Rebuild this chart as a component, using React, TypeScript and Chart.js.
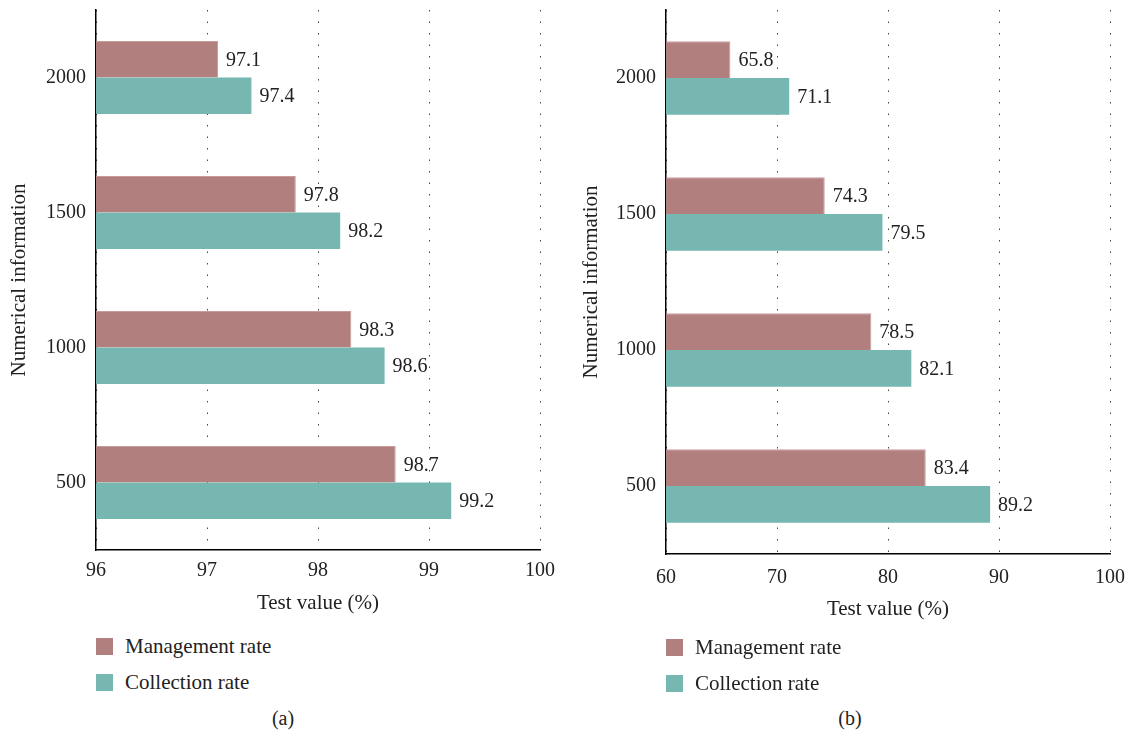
import React, { useEffect, useRef } from 'react';
import { Chart, registerables } from 'chart.js';

Chart.register(...registerables);

// ---- data ----
const categories = ['2000', '1500', '1000', '500'];
const seriesNames = ['Management rate', 'Collection rate'];
const managementA = [97.1, 97.8, 98.3, 98.7];
const collectionA = [97.4, 98.2, 98.6, 99.2];
const managementB = [65.8, 74.3, 78.5, 83.4];
const collectionB = [71.1, 79.5, 82.1, 89.2];
const axisA = { min: 96, max: 100, step: 1 };
const axisB = { min: 60, max: 100, step: 10 };
const xTitle = 'Test value (%)';
const yTitle = 'Numerical information';

const MGMT = '#b07f7e';
const COLL = '#76b7b2';
const FONT = '"Liberation Serif", "Times New Roman", serif';
const TEXT = '#222';
const FS = 20;
const FT = 21;

const valueLabels = {
  id: 'valueLabels',
  afterDatasetsDraw(chart: any) {
    const ctx = chart.ctx;
    ctx.save();
    ctx.font = `${FS}px ${FONT}`;
    ctx.fillStyle = TEXT;
    ctx.textBaseline = 'middle';
    ctx.textAlign = 'left';
    chart.data.datasets.forEach((ds: any, di: number) => {
      const meta = chart.getDatasetMeta(di);
      meta.data.forEach((bar: any, i: number) => {
        ctx.fillText(String(ds.data[i]), bar.x + 8, bar.y + 1);
      });
    });
    ctx.restore();
  },
};

type PanelProps = {
  left: number;
  width: number;
  mgmt: number[];
  coll: number[];
  axis: { min: number; max: number; step: number };
  plotLeft: number;
  plotRight: number;
  plotBottom: number;
  yTitlePad: number;
  xTickPad: number;
  xTitlePad: number;
  legendY: number[];
  caption: string;
};

function Panel(p: PanelProps) {
  const ref = useRef<HTMLCanvasElement>(null);
  const H = p.plotBottom + 82;
  useEffect(() => {
    if (!ref.current) return;
    const chart = new Chart(ref.current, {
      type: 'bar',
      data: {
        labels: categories,
        datasets: [
          { label: seriesNames[0], data: p.mgmt, backgroundColor: MGMT, borderColor: '#c99a9a', borderWidth: { top: 1, right: 1, bottom: 0, left: 0 } as any, borderSkipped: 'start' as any, categoryPercentage: 0.54, barPercentage: 1.0 },
          { label: seriesNames[1], data: p.coll, backgroundColor: COLL, borderWidth: 0, categoryPercentage: 0.54, barPercentage: 1.0 },
        ],
      },
      options: {
        indexAxis: 'y',
        responsive: false,
        animation: false,
        layout: { padding: { top: 10, right: p.width - p.plotRight, left: 0, bottom: 0 } },
        plugins: { legend: { display: false }, tooltip: { enabled: false } },
        scales: {
          y: {
            type: 'category',
            grid: { display: false, drawTicks: false },
            border: { display: true, color: '#000', width: 1.5 },
            ticks: { font: { family: FONT, size: FS }, color: TEXT, padding: 10 },
            title: { display: true, text: yTitle, font: { family: FONT, size: FT }, color: TEXT, padding: { top: p.yTitlePad, bottom: 0 } },
            afterFit: (s: any) => { s.width = p.plotLeft; s.paddingTop = 0; s.paddingBottom = 0; },
          },
          x: {
            type: 'linear',
            min: p.axis.min,
            max: p.axis.max,
            grid: { color: '#444', lineWidth: 1, drawTicks: false },
            border: { display: true, color: '#000', width: 1.5, dash: [1.5, 10] },
            ticks: { stepSize: p.axis.step, font: { family: FONT, size: FS }, color: TEXT, padding: p.xTickPad },
            title: { display: true, text: xTitle, font: { family: FONT, size: FT }, color: TEXT, padding: { top: 0, bottom: p.xTitlePad } },
            afterFit: (s: any) => { s.height = H - p.plotBottom; s.paddingLeft = 0; s.paddingRight = 0; },
          },
        },
      } as any,
      plugins: [valueLabels],
    });
    return () => chart.destroy();
  }, []);

  const legendItem = (color: string, text: string, cy: number) => (
    <div style={{ position: 'absolute', left: p.plotLeft, top: cy - 12, height: 24, display: 'flex', alignItems: 'center' }}>
      <div style={{ width: 17, height: 17, background: color }} />
      <span style={{ marginLeft: 12, fontFamily: FONT, fontSize: FT, color: TEXT, whiteSpace: 'nowrap' }}>{text}</span>
    </div>
  );

  return (
    <div style={{ position: 'absolute', left: p.left, top: 0, width: p.width, height: 738 }}>
      <canvas ref={ref} width={p.width} height={H} style={{ display: 'block', width: p.width, height: H }} />
      {legendItem(MGMT, seriesNames[0], p.legendY[0])}
      {legendItem(COLL, seriesNames[1], p.legendY[1])}
      <div style={{ position: 'absolute', left: 0, width: p.width, top: 707, textAlign: 'center', fontFamily: FONT, fontSize: FS, color: TEXT }}>{p.caption}</div>
    </div>
  );
}

export default function App() {
  return (
    <div style={{ position: 'absolute', left: 0, top: 0, width: 1133, height: 738, background: '#fff', overflow: 'hidden' }}>
      <Panel left={0} width={566} mgmt={managementA} coll={collectionA} axis={axisA} plotLeft={96} plotRight={540} plotBottom={550} yTitlePad={7} xTickPad={9} xTitlePad={16} legendY={[646, 682]} caption="(a)" />
      <Panel left={567} width={566} mgmt={managementB} coll={collectionB} axis={axisB} plotLeft={99} plotRight={543} plotBottom={554} yTitlePad={12} xTickPad={12} xTitlePad={14} legendY={[647, 683]} caption="(b)" />
    </div>
  );
}
